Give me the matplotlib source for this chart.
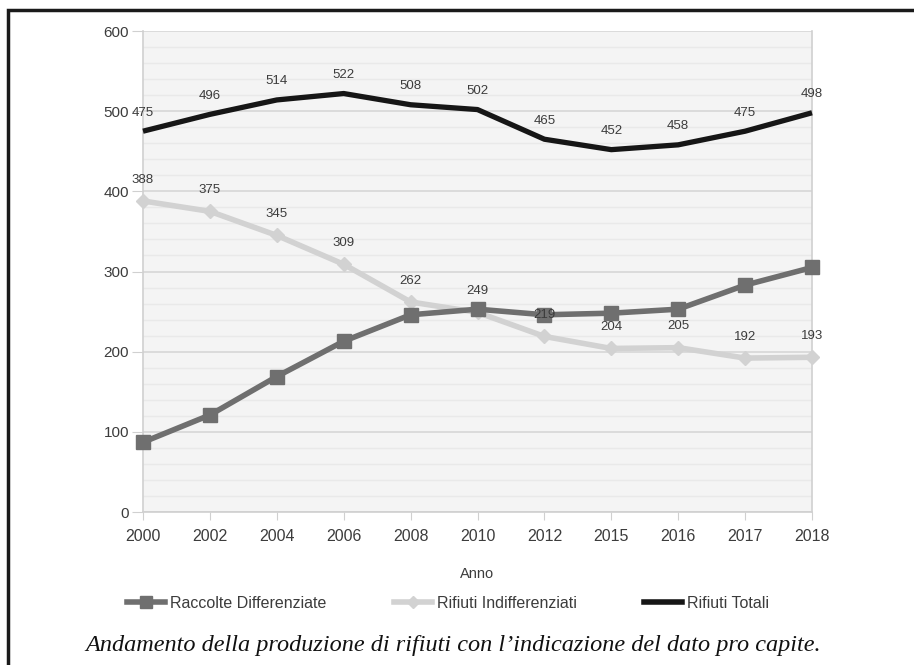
import matplotlib
matplotlib.use("Agg")
import matplotlib.pyplot as plt
from matplotlib.patches import Rectangle
from matplotlib.lines import Line2D
import numpy as np

plt.rcParams["font.family"] = ["Liberation Sans", "DejaVu Sans"]

years = ["2000", "2002", "2004", "2006", "2008", "2010", "2012", "2015", "2016", "2017", "2018"]
raccolte_diff = [87, 121, 169, 213, 246, 253, 246, 248, 253, 283, 305]
rifiuti_indiff = [388, 375, 345, 309, 262, 249, 219, 204, 205, 192, 193]
rifiuti_totali = [475, 496, 514, 522, 508, 502, 465, 452, 458, 475, 498]
y_ticks = [0, 100, 200, 300, 400, 500, 600]

c_rd = "#6f6f6f"
c_ri = "#d2d2d2"
c_tot = "#161616"
txt = "#3c3c3c"

fig = plt.figure(figsize=(9.14, 6.65), dpi=100)
ax = fig.add_axes([143/914, 1-512/665, (812-143)/914, (512-31)/665])
x = np.arange(len(years))

ax.set_facecolor("#f4f4f4")
ax.set_xlim(0, len(years)-1)
ax.set_ylim(0, 600)
ax.set_yticks(y_ticks)
ax.set_yticks(np.arange(0, 601, 20), minor=True)
ax.grid(which="minor", axis="y", color="#e9e9e9", lw=1.0)
ax.grid(which="major", axis="y", color="#d6d6d6", lw=1.2)
ax.set_axisbelow(True)
for s in ["left", "right", "bottom"]:
    ax.spines[s].set_color("#d0d0d0")
    ax.spines[s].set_linewidth(1.2)
ax.spines["top"].set_visible(False)
ax.tick_params(axis="y", which="minor", length=0)
ax.tick_params(axis="y", which="major", length=8, color="#d0d0d0", labelsize=11, labelcolor=txt, pad=2)
ax.tick_params(axis="x", length=6, color="#d0d0d0", labelsize=11.5, labelcolor=txt, pad=6)
ax.set_xticks(x)
ax.set_xticklabels(years)
ax.set_xlabel("Anno", fontsize=10.5, color=txt, labelpad=17)

ax.plot(x, rifiuti_indiff, color=c_ri, lw=4, marker="D", ms=7, mfc=c_ri, mec=c_ri,
        solid_joinstyle="round", clip_on=False, zorder=3)
ax.plot(x, raccolte_diff, color=c_rd, lw=4, marker="s", ms=10, mfc=c_rd, mec=c_rd,
        clip_on=False, zorder=4)
ax.plot(x, rifiuti_totali, color=c_tot, lw=3.8, solid_joinstyle="round", solid_capstyle="butt",
        clip_on=False, zorder=5)

for xi, v in zip(x, rifiuti_indiff):
    ax.annotate(str(v), (xi, v), xytext=(0, 11), textcoords="offset points",
                ha="center", va="bottom", fontsize=9.5, color=txt, zorder=6)
for xi, v in zip(x, rifiuti_totali):
    ax.annotate(str(v), (xi, v), xytext=(0, 9), textcoords="offset points",
                ha="center", va="bottom", fontsize=9.5, color=txt, zorder=6)

handles = [
    Line2D([], [], color=c_rd, lw=4, marker="s", ms=9),
    Line2D([], [], color=c_ri, lw=4, marker="D", ms=6),
    Line2D([], [], color=c_tot, lw=4),
]
labels = ["Raccolte Differenziate", "Rifiuti Indifferenziati", "Rifiuti Totali"]
fig.legend(handles, labels, loc="center", bbox_to_anchor=(448/914, 1-603/665), ncol=3,
           frameon=False, fontsize=11.5, handlelength=2.4, handletextpad=0.3, columnspacing=4.2,
           labelcolor=txt)

fig.text(453/914, 1-645/665, "Andamento della produzione di rifiuti con l\u2019indicazione del dato pro capite.",
         ha="center", va="center", fontsize=17.5, style="italic", family="Liberation Serif", color="#111111")

fig.patches.append(Rectangle((8/914, -0.2), 1.2, 1.2 - 10/665, transform=fig.transFigure,
                             fill=False, ec="#1a1a1a", lw=2.5))

fig.savefig("out.png", dpi=100)
